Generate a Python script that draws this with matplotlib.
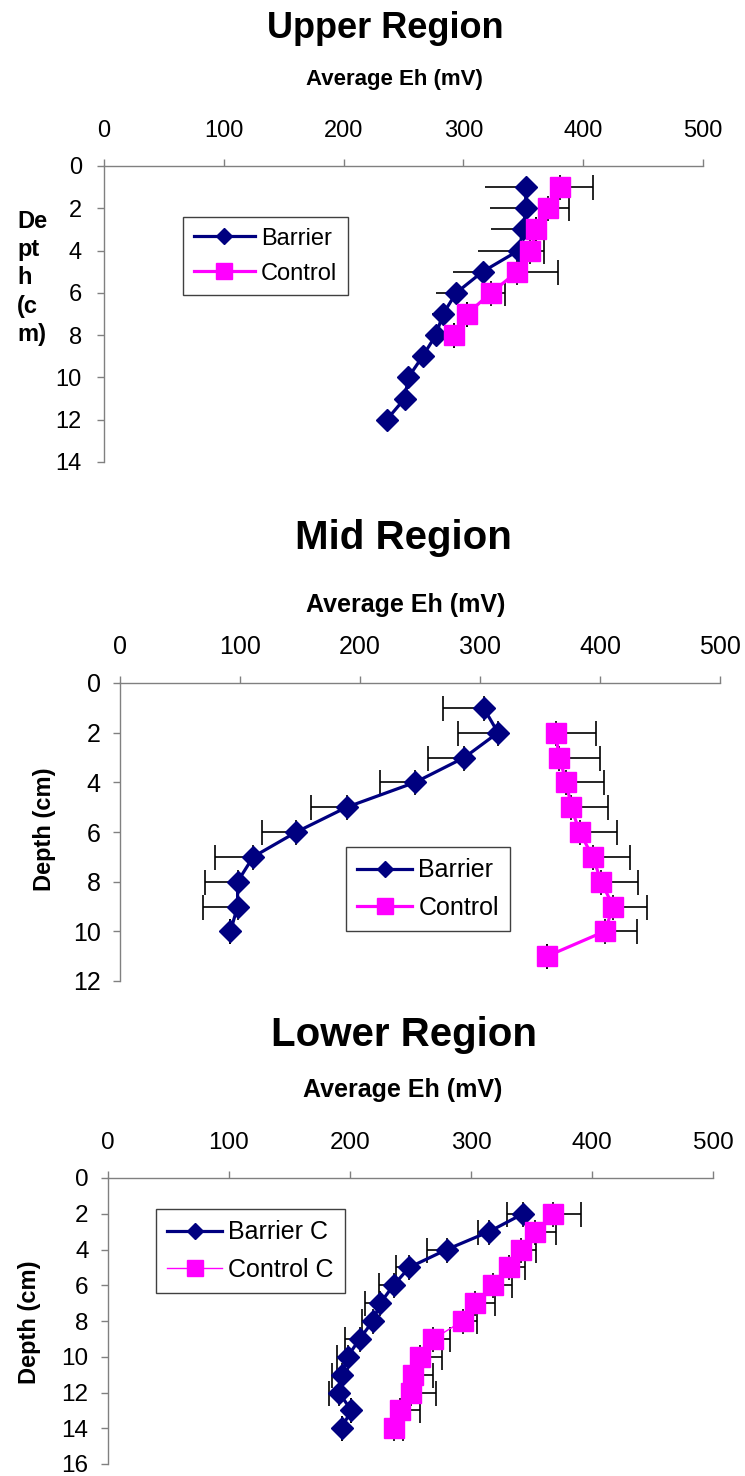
import numpy as np
import matplotlib
matplotlib.use('Agg')
import matplotlib.pyplot as plt

plt.rcParams['font.family'] = ['Liberation Sans', 'DejaVu Sans']

W, H = 745, 1476
NAVY = '#000080'
PINK = '#FF00FF'

# Upper region
up_depth_b = [1, 2, 3, 4, 5, 6, 7, 8, 9, 10, 11, 12]
up_eh_b = [352, 352, 350, 346, 316, 294, 283, 277, 266, 254, 251, 236]
up_err_b = [34, 30, 27, 34, 25, 17, 9, 0, 0, 0, 0, 0]
up_depth_c = [1, 2, 3, 4, 5, 6, 7, 8]
up_eh_c = [381, 371, 361, 356, 345, 323, 303, 292]
up_err_c = [27, 17, 0, 11, 34, 12, 0, 0]

# Mid region
mid_depth_b = [1, 2, 3, 4, 5, 6, 7, 8, 9, 10]
mid_eh_b = [303, 315, 287, 246, 189, 147, 111, 98, 98, 92]
mid_err_b = [34, 33, 30, 29, 30, 29, 32, 27, 29, 0]
mid_depth_c = [2, 3, 4, 5, 6, 7, 8, 9, 10, 11]
mid_eh_c = [363, 366, 372, 376, 383, 394, 401, 411, 404, 356]
mid_err_c = [34, 34, 31, 31, 31, 31, 31, 28, 27, 0]

# Lower region
lo_depth = [2, 3, 4, 5, 6, 7, 8, 9, 10, 11, 12, 13, 14]
lo_eh_b = [343, 315, 280, 249, 236, 225, 219, 208, 198, 193, 191, 201, 193]
lo_err_b = [13, 9, 16, 11, 12, 13, 9, 12, 9, 8, 8, 0, 0]
lo_eh_c = [368, 353, 341, 331, 318, 303, 293, 269, 258, 252, 250, 241, 236]
lo_err_c = [23, 17, 13, 14, 16, 17, 12, 14, 18, 17, 21, 17, 8]

x_ticks = [0, 100, 200, 300, 400, 500]


def px_rect(l, t, r, b):
    return [l / W, 1 - b / H, (r - l) / W, (b - t) / H]


def fx(x):
    return x / W


def fy(y):
    return 1 - y / H


fig = plt.figure(figsize=(W / 100, H / 100), dpi=100)


def panel(rect, ymax, fs, xpad, ypad):
    ax = fig.add_axes(px_rect(*rect))
    ax.set_xlim(0, 500)
    ax.set_ylim(ymax, 0)
    ax.set_xticks(x_ticks)
    ax.set_yticks(range(0, ymax + 1, 2))
    ax.xaxis.tick_top()
    for s in ['right', 'bottom']:
        ax.spines[s].set_visible(False)
    for s in ['left', 'top']:
        ax.spines[s].set_color('#808080')
        ax.spines[s].set_linewidth(1.0)
    ax.tick_params(axis='x', direction='out', length=5, width=1, color='#808080',
                   labelsize=fs, pad=xpad)
    ax.tick_params(axis='y', direction='out', length=5, width=1, color='#808080',
                   labelsize=fs, pad=ypad)
    ax.set_facecolor('none')
    return ax


def series(ax, x, y, lo, hi, color, marker, ms, lw, label, cap=9):
    lo = np.array(lo)
    hi = np.array(hi)
    ax.errorbar(x, y, xerr=[lo, hi], fmt='none', ecolor='black', elinewidth=1.2,
                capsize=cap, capthick=1.2, zorder=2)
    ax.plot(x, y, color=color, lw=lw, marker=marker, ms=ms, mfc=color, mec=color,
            label=label, zorder=3)


def legend(ax, x, y, fs, hl, ms_scale=0.75):
    leg = ax.legend(loc='upper left', bbox_to_anchor=(fx(x), fy(y)),
                    bbox_transform=fig.transFigure, fontsize=fs, frameon=True,
                    fancybox=False, framealpha=1, edgecolor='#404040',
                    handlelength=hl, handletextpad=0.25, borderpad=0.45,
                    labelspacing=0.55, borderaxespad=0, markerscale=ms_scale)
    leg.get_frame().set_linewidth(1.0)


# ---- Upper ----
ax1 = panel((104, 166, 703, 462), 14, 17, 12, 11)
series(ax1, up_eh_b, up_depth_b, up_err_b, [0] * len(up_eh_b), NAVY, 'D', 11, 2.3,
       'Barrier', cap=0)
series(ax1, up_eh_c, up_depth_c, [0] * len(up_eh_c), up_err_c, PINK, 's', 15, 2.3, 'Control')
legend(ax1, 183, 217, 17, 2.6)
fig.text(fx(385), fy(28), 'Upper Region', fontsize=26, fontweight='bold', ha='center', va='center')
fig.text(fx(394), fy(80), 'Average Eh (mV)', fontsize=16, fontweight='bold', ha='center', va='center')
fig.text(fx(17), fy(278), 'De\npt\nh\n(c\nm)', fontsize=17, fontweight='bold', ha='left',
         va='center', linespacing=1.3)

# ---- Mid ----
ax2 = panel((120, 683, 720, 981), 12, 18, 12, 9)
series(ax2, mid_eh_b, mid_depth_b, mid_err_b, [0] * len(mid_eh_b), NAVY, 'D', 11, 2.3, 'Barrier')
series(ax2, mid_eh_c, mid_depth_c, [0] * len(mid_eh_c), mid_err_c, PINK, 's', 15, 2.3, 'Control')
legend(ax2, 346, 847, 18, 2.2)
fig.text(fx(403), fy(538), 'Mid Region', fontsize=29, fontweight='bold', ha='center', va='center')
fig.text(fx(406), fy(605), 'Average Eh (mV)', fontsize=18, fontweight='bold', ha='center', va='center')
fig.text(fx(45), fy(829), 'Depth (cm)', fontsize=17, fontweight='bold', ha='center',
         va='center', rotation=90)

# ---- Lower ----
ax3 = panel((108, 1178, 713, 1464), 16, 17.5, 12, 9)
series(ax3, lo_eh_b, lo_depth, lo_err_b, [0] * len(lo_eh_b), NAVY, 'D', 11, 2.3, 'Barrier C')
series(ax3, lo_eh_c, lo_depth, [0] * len(lo_eh_c), lo_err_c, PINK, 's', 15, 1.0, 'Control C')
legend(ax3, 156, 1209, 18, 2.2)
fig.text(fx(404), fy(1035), 'Lower Region', fontsize=29, fontweight='bold', ha='center', va='center')
fig.text(fx(403), fy(1090), 'Average Eh (mV)', fontsize=18, fontweight='bold', ha='center', va='center')
fig.text(fx(30), fy(1322), 'Depth (cm)', fontsize=17, fontweight='bold', ha='center',
         va='center', rotation=90)

fig.savefig('out.png', dpi=100, facecolor='white')
